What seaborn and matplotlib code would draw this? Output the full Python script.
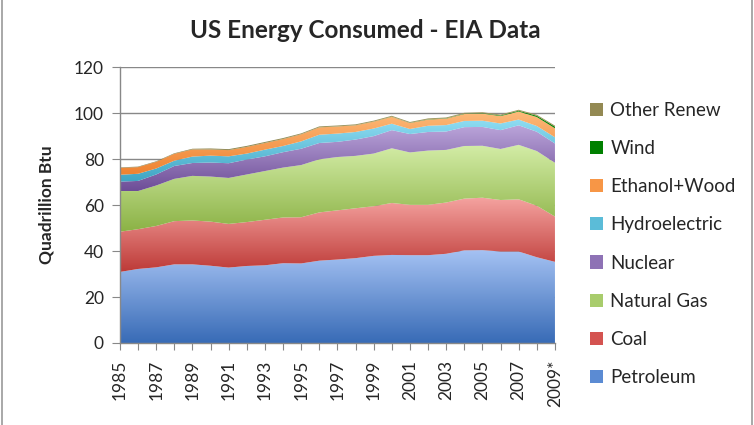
import numpy as np
import matplotlib
matplotlib.use("Agg")
import matplotlib.pyplot as plt
import seaborn as sns
from matplotlib.colors import LinearSegmentedColormap
from matplotlib.patches import Patch
from matplotlib.lines import Line2D

years = list(range(1985, 2010))
year_labels = [str(y) if y % 2 == 1 else "" for y in years]
year_labels[-1] = "2009*"

petroleum = [30.9, 32.2, 32.9, 34.2, 34.2, 33.6, 32.8, 33.5, 33.8, 34.7, 34.6, 35.8, 36.3,
             36.9, 37.9, 38.3, 38.2, 38.2, 38.8, 40.3, 40.4, 39.8, 39.8, 37.3, 35.3]
coal = [17.5, 17.3, 18.0, 18.8, 19.1, 19.2, 19.0, 19.1, 19.8, 19.9, 20.1, 21.0, 21.4,
        21.7, 21.6, 22.6, 21.9, 21.9, 22.3, 22.5, 22.8, 22.4, 22.7, 22.4, 19.7]
natural_gas = [17.7, 16.6, 17.6, 18.4, 19.4, 19.6, 20.0, 20.7, 21.2, 21.7, 22.7, 23.1, 23.2,
               22.8, 22.9, 23.8, 22.8, 23.6, 22.9, 22.9, 22.6, 22.2, 23.7, 23.8, 23.4]
nuclear = [4.1, 4.4, 4.8, 5.6, 5.6, 6.1, 6.4, 6.5, 6.4, 6.7, 7.1, 7.1, 6.6,
           7.1, 7.6, 7.9, 8.0, 8.1, 8.0, 8.2, 8.2, 8.2, 8.5, 8.4, 8.4]
hydro = [3.0, 3.1, 2.6, 2.3, 2.8, 3.0, 3.0, 2.6, 2.9, 2.7, 3.2, 3.6, 3.6,
         3.3, 3.3, 2.8, 2.2, 2.7, 2.8, 2.7, 2.7, 2.9, 2.5, 2.5, 2.7]
ethanol_wood = [3.0, 2.9, 2.9, 3.0, 3.1, 2.7, 2.7, 2.9, 2.9, 3.0, 3.1, 3.2, 3.1,
                2.9, 3.0, 3.0, 2.6, 2.7, 2.8, 3.0, 3.1, 3.2, 3.5, 3.9, 3.9]
wind = [0.0, 0.0, 0.0, 0.0, 0.02, 0.03, 0.03, 0.03, 0.03, 0.04, 0.03, 0.03, 0.03,
        0.03, 0.05, 0.06, 0.07, 0.11, 0.12, 0.14, 0.18, 0.26, 0.34, 0.55, 0.72]
other_renew = [0.2, 0.22, 0.23, 0.24, 0.28, 0.39, 0.40, 0.41, 0.42, 0.41, 0.36, 0.39, 0.39,
               0.39, 0.38, 0.38, 0.37, 0.39, 0.39, 0.40, 0.41, 0.41, 0.43, 0.45, 0.45]

series_names = ["Petroleum", "Coal", "Natural Gas", "Nuclear", "Hydroelectric",
                "Ethanol+Wood", "Wind", "Other Renew"]
series = [petroleum, coal, natural_gas, nuclear, hydro, ethanol_wood, wind, other_renew]

# (light top, dark bottom) gradient per series, Excel-style
grads = [("#A5C2F3", "#386BB6"), ("#F5A3A0", "#BD3A37"), ("#D3ECA6", "#8BB245"),
         ("#BBA5DA", "#6D4D97"), ("#90DDF3", "#3EA5C3"), ("#FDBA7A", "#EF8230"),
         ("#0A8C0A", "#006E00"), ("#A0985F", "#857C47")]
swatch = ["#5B8BD3", "#D45350", "#A8CC6C", "#8E72B5", "#5BBCD8", "#F79646", "#008000", "#938953"]

sns.set_style("white")
plt.rcParams["font.family"] = ["Lato", "DejaVu Sans"]

fig = plt.figure(figsize=(7.54, 4.25), dpi=100)
ax = fig.add_axes([0.159, 0.193, 0.577, 0.649])

polys = ax.stackplot(years, *series, colors=swatch, linewidth=0)
for poly, (light, dark) in zip(polys, grads):
    path = poly.get_paths()[0]
    ext = path.get_extents()
    cmap = LinearSegmentedColormap.from_list("g", [dark, light])
    im = ax.imshow(np.linspace(0, 1, 256).reshape(-1, 1), extent=[ext.x0, ext.x1, ext.y0, ext.y1],
                   origin="lower", cmap=cmap, aspect="auto", zorder=2, interpolation="bilinear")
    im.set_clip_path(path, ax.transData)
    poly.set_visible(False)

ax.set_xlim(1985, 2009)
ax.set_ylim(0, 120)
ax.set_yticks(range(0, 121, 20))
ax.tick_params(axis="y", labelsize=12.5, length=5.5, color="#888888", direction="out", left=True, pad=6)
ax.grid(axis="y", color="#888888", linewidth=1)
ax.set_axisbelow(True)
ax.set_xticks(years)
ax.set_xticklabels(year_labels, rotation=90, fontsize=12.5)
ax.tick_params(axis="x", length=5, color="#888888", direction="out", bottom=True, pad=7)
for side in ["top", "right"]:
    ax.spines[side].set_visible(False)
for side in ["left", "bottom"]:
    ax.spines[side].set_color("#888888")
    ax.spines[side].set_linewidth(1)

ax.set_ylabel("Quadrillion Btu", fontsize=12.5, fontweight="bold", labelpad=14)
fig.text(0.484, 0.928, "US Energy Consumed - EIA Data", ha="center", va="center",
         fontsize=17.5, fontweight="bold")

handles = [Patch(facecolor=c, edgecolor="none") for c in swatch]
fig.legend(handles[::-1], series_names[::-1], loc="upper left", bbox_to_anchor=(0.772, 0.778),
           frameon=False, fontsize=13.5, handlelength=0.7, handleheight=0.7,
           handletextpad=0.4, labelspacing=1.13, borderaxespad=0)

# chart frame: only the side edges are visible in the original
for xf in (0.003, 0.997):
    fig.add_artist(Line2D([xf, xf], [0, 1], transform=fig.transFigure, color="#999999", linewidth=1.2))

fig.savefig("out.png", dpi=100)
